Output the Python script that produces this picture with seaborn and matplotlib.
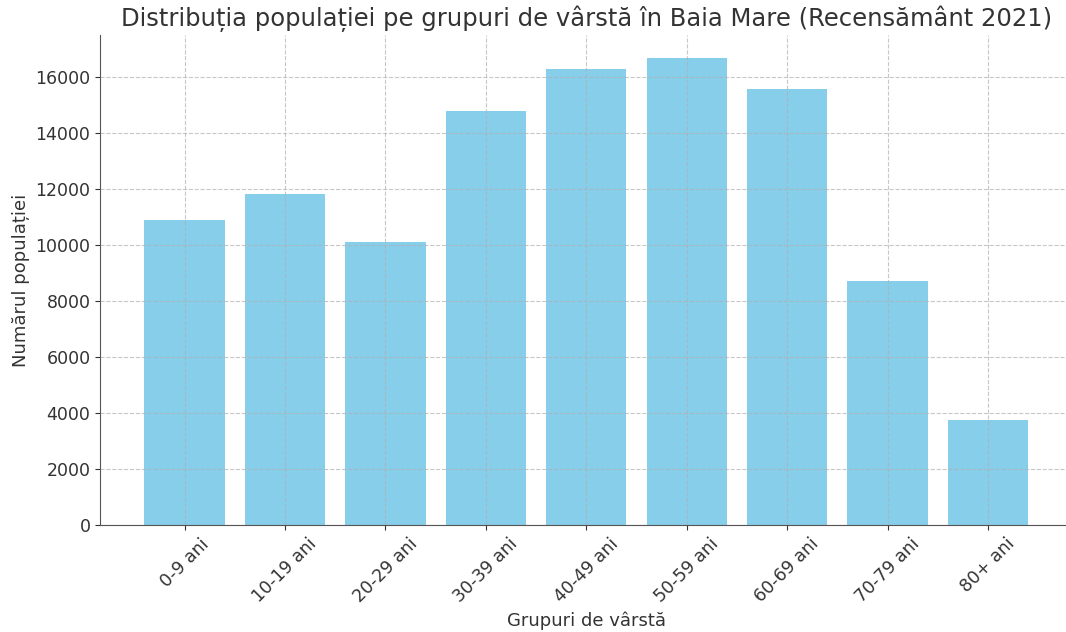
import pandas as pd
import matplotlib
matplotlib.use("Agg")
import matplotlib.pyplot as plt
import seaborn as sns

# Data
grupe = ["0-9 ani", "10-19 ani", "20-29 ani", "30-39 ani", "40-49 ani",
         "50-59 ani", "60-69 ani", "70-79 ani", "80+ ani"]
populatie = [10910, 11830, 10115, 14800, 16310, 16690, 15585, 8730, 3760]

df = pd.DataFrame({"Grupa": grupe, "Populatie": populatie})

plt.rcParams["text.color"] = "#333333"
plt.rcParams["axes.labelcolor"] = "#333333"
plt.rcParams["xtick.color"] = "#333333"
plt.rcParams["ytick.color"] = "#333333"
plt.rcParams["font.family"] = ["DejaVu Sans"]

fig, ax = plt.subplots(figsize=(10.66, 6.32), dpi=100)
sns.barplot(data=df, x="Grupa", y="Populatie", color="skyblue", saturation=1,
            width=0.8, ax=ax)

ax.set_xlim(-0.84, len(grupe) - 1 + 0.84)
ax.set_title("Distribuția populației pe grupuri de vârstă în Baia Mare (Recensământ 2021)",
             fontsize=17.5)
ax.set_xlabel("Grupuri de vârstă", fontsize=13)
ax.set_ylabel("Numărul populației", fontsize=13)
ax.tick_params(axis="both", labelsize=12.5)
plt.setp(ax.get_xticklabels(), rotation=45)
ax.grid(True, linestyle="--", alpha=0.7)
ax.spines["top"].set_visible(False)
ax.spines["right"].set_visible(False)
ax.spines["left"].set_color("#555555")
ax.spines["bottom"].set_color("#555555")

# axes runs slightly past the right edge, like the cropped original
plt.subplots_adjust(left=0.094, right=1.006, bottom=0.169, top=0.945)
plt.savefig("out.png", dpi=100)
